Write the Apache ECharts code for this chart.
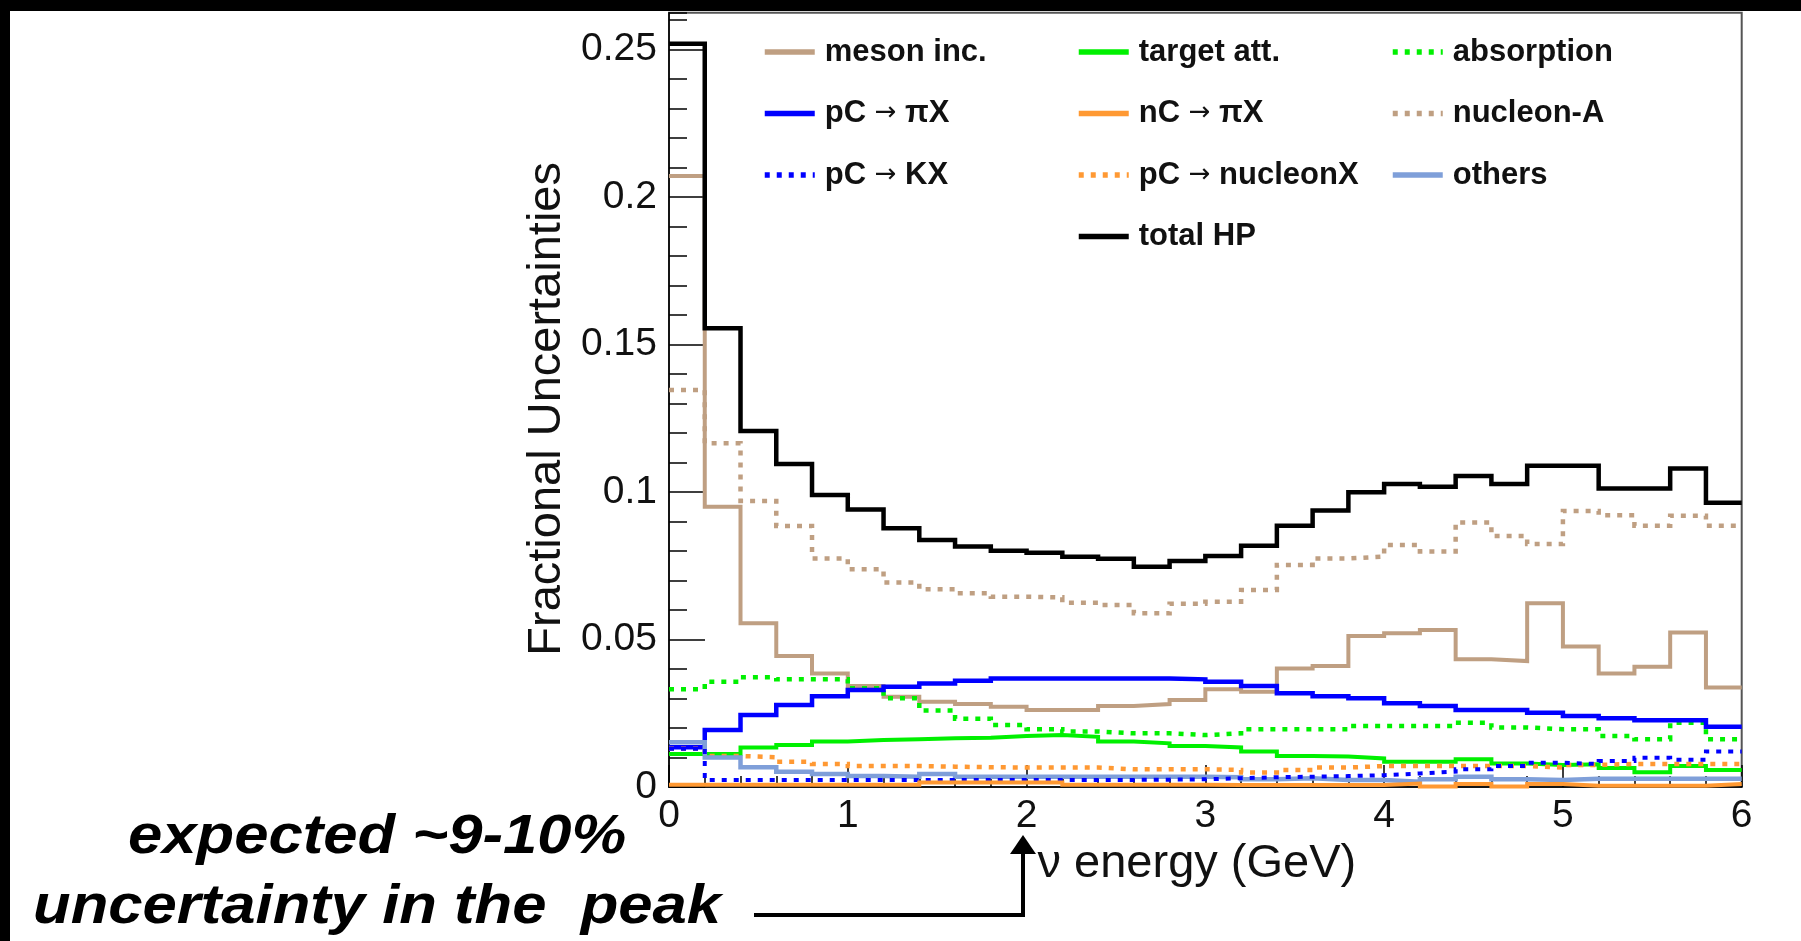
<!DOCTYPE html>
<html>
<head>
<meta charset="utf-8">
<script src="https://cdn.jsdelivr.net/npm/echarts@6/dist/echarts.min.js"></script>
<style>
  html, body { margin: 0; padding: 0; background: #fff; }
  #chart { width: 1801px; height: 941px; }
</style>
</head>
<body>
<div id="chart"></div>
<script>
// Bin edges (GeV)
const binEdges = [0, 0.2, 0.4, 0.6, 0.8, 1.0, 1.2, 1.4, 1.6, 1.8, 2.0, 2.2, 2.4, 2.6, 2.8, 3.0,
  3.2, 3.4, 3.6, 3.8, 4.0, 4.2, 4.4, 4.6, 4.8, 5.0, 5.2, 5.4, 5.6, 5.8, 6.0];
const xTickLabels = ['0', '1', '2', '3', '4', '5', '6'];
const yTickLabels = ['0', '0.05', '0.1', '0.15', '0.2', '0.25'];

// Fractional uncertainty per bin (30 bins)
const mesonInc = [0.2071, 0.095, 0.0555, 0.0444, 0.0385, 0.0342, 0.0306, 0.0289, 0.0281, 0.0272,
  0.0261, 0.0261, 0.0275, 0.0281, 0.0295, 0.0331, 0.0323, 0.0402, 0.041, 0.0512,
  0.0521, 0.0532, 0.0433, 0.0427, 0.0623, 0.0476, 0.0385, 0.0408, 0.0524, 0.0337];
const pCpiX = [0.0135, 0.0193, 0.0244, 0.0278, 0.0308, 0.0329, 0.034, 0.0351, 0.036, 0.0368,
  0.0368, 0.0368, 0.0368, 0.0368, 0.0365, 0.0357, 0.0342, 0.0318, 0.0308, 0.0301,
  0.0284, 0.0275, 0.0261, 0.0261, 0.0252, 0.0241, 0.0233, 0.0226, 0.0226, 0.0204];
const pCKX = [0.013, 0.0024, 0.0024, 0.0024, 0.0024, 0.0024, 0.0024, 0.0024, 0.0024, 0.0024,
  0.0024, 0.0024, 0.0024, 0.0025, 0.0026, 0.003, 0.0033, 0.0035, 0.0037, 0.004,
  0.0046, 0.0052, 0.006, 0.0071, 0.0082, 0.0078, 0.0088, 0.0099, 0.0092, 0.012];
const targetAtt = [0.0112, 0.0112, 0.0134, 0.0142, 0.0154, 0.0159, 0.0162, 0.0165, 0.0167, 0.0173,
  0.0176, 0.017, 0.0154, 0.0148, 0.0139, 0.0134, 0.012, 0.0105, 0.0103, 0.0097,
  0.0086, 0.0086, 0.0094, 0.008, 0.0075, 0.0077, 0.0064, 0.005, 0.0071, 0.0058];
const nCpiX = [0.0008, 0.0008, 0.0008, 0.0008, 0.0008, 0.0008, 0.0008, 0.0015, 0.0015, 0.0015,
  0.0015, 0.0008, 0.0008, 0.0008, 0.0008, 0.0007, 0.0007, 0.0007, 0.0007, 0.0007,
  0.0012, 0.0002, 0.001, 0.0002, 0.001, 0.0004, 0.0004, 0.0004, 0.0004, 0.001];
const pCnucleonX = [0.013, 0.0105, 0.0101, 0.0086, 0.0078, 0.0071, 0.0071, 0.0069, 0.0067, 0.0066,
  0.0066, 0.0066, 0.006, 0.006, 0.006, 0.0058, 0.0049, 0.0058, 0.0066, 0.0071,
  0.0071, 0.0071, 0.0071, 0.0071, 0.0066, 0.0075, 0.0078, 0.0078, 0.0078, 0.0078];
const absorption = [0.0331, 0.0357, 0.0372, 0.0365, 0.0365, 0.0335, 0.0301, 0.0259, 0.0231, 0.021,
  0.0196, 0.0188, 0.0182, 0.0182, 0.0176, 0.0182, 0.0196, 0.0196, 0.0196, 0.0207,
  0.0207, 0.0207, 0.0218, 0.0202, 0.0196, 0.0196, 0.0173, 0.0162, 0.0218, 0.0162];
const nucleonA = [0.1346, 0.1165, 0.097, 0.0885, 0.0775, 0.0738, 0.0693, 0.067, 0.0657, 0.0645,
  0.0643, 0.0625, 0.0617, 0.0589, 0.0621, 0.0628, 0.0668, 0.0753, 0.0775, 0.0781,
  0.082, 0.0798, 0.0897, 0.0851, 0.0824, 0.0936, 0.0921, 0.0886, 0.092, 0.0886];
const others = [0.0152, 0.01, 0.0067, 0.0052, 0.0044, 0.0037, 0.0035, 0.0044, 0.0035, 0.0035,
  0.0035, 0.0035, 0.0035, 0.0035, 0.0035, 0.0033, 0.0026, 0.003, 0.0024, 0.0024,
  0.0018, 0.0026, 0.0035, 0.0026, 0.0024, 0.0028, 0.0028, 0.0028, 0.0028, 0.0028];
const totalHP = [0.252, 0.1555, 0.1207, 0.1095, 0.099, 0.0941, 0.0877, 0.0837, 0.0815, 0.0801,
  0.0794, 0.0781, 0.0774, 0.0747, 0.0766, 0.0783, 0.0818, 0.0886, 0.0937, 0.0999,
  0.1027, 0.1018, 0.1054, 0.1027, 0.1089, 0.1089, 0.1012, 0.1012, 0.108, 0.0964];

const seriesNames = ['meson inc.', 'pC \u2192 \u03C0X', 'pC \u2192 KX', 'target att.', 'nC \u2192 \u03C0X',
  'pC \u2192 nucleonX', 'absorption', 'nucleon-A', 'others', 'total HP'];

// histogram -> step points at bin edges
function steps(vals) {
  return binEdges.map((e, i) => [e, vals[Math.min(i, vals.length - 1)]]);
}

const DOT = [5, 7];
function mk(name, vals, color, width, dotted, z) {
  return {
    name: name, type: 'line', step: 'end', data: steps(vals),
    symbol: 'none', showSymbol: false, silent: true, z: z,
    lineStyle: { color: color, width: width, type: dotted ? DOT : 'solid', cap: 'butt', join: 'miter' },
    itemStyle: { color: color }
  };
}

const TAN = '#bf9f82', BLUE = '#0000ff', GREEN = '#00f000', ORANGE = '#ff9933', LBLUE = '#7f9fd9';

const series = [
  mk(seriesNames[0], mesonInc, TAN, 4, false, 2),
  mk(seriesNames[7], nucleonA, TAN, 4.5, true, 3),
  mk(seriesNames[6], absorption, GREEN, 4.5, true, 4),
  mk(seriesNames[3], targetAtt, GREEN, 4, false, 5),
  mk(seriesNames[1], pCpiX, BLUE, 4.5, false, 6),
  mk(seriesNames[5], pCnucleonX, ORANGE, 4.5, true, 7),
  mk(seriesNames[8], others, LBLUE, 4.5, false, 8),
  mk(seriesNames[2], pCKX, BLUE, 4, true, 9),
  mk(seriesNames[4], nCpiX, ORANGE, 4, false, 10),
  mk(seriesNames[9], totalHP, '#000000', 4.5, false, 11)
];

const legendText = {
  fontFamily: 'Liberation Sans', fontWeight: 'bold', fontSize: 31, color: '#111', padding: [0, 0, 0, 5],
  rich: { a: { fontFamily: 'DejaVu Sans', fontWeight: 'normal', fontSize: 26, color: '#111' } }
};
function leg(names, left) {
  return {
    data: names, orient: 'vertical', left: left, top: 36.5, padding: 0, itemWidth: 50, itemHeight: 14,
    itemGap: 30.5, selectedMode: false, textStyle: legendText,
    itemStyle: { opacity: 0, borderWidth: 0 },
    lineStyle: { width: 5.5 },
    formatter: (n) => n.replace('\u2192', '{a|\u2192}')
  };
}

const labelFont = { fontFamily: 'Liberation Sans', fontSize: 39, color: '#111' };

const chart = echarts.init(document.getElementById('chart'), null, { renderer: 'canvas' });
chart.setOption({
  animation: false,
  backgroundColor: '#ffffff',
  grid: { left: 669, right: 59.3, top: 12.7, bottom: 154, show: true, borderColor: '#555', borderWidth: 2,
    containLabel: false, outerBoundsMode: 'none' },
  legend: [
    leg([seriesNames[0], seriesNames[1], seriesNames[2]], 762),
    leg([seriesNames[3], seriesNames[4], seriesNames[5], seriesNames[9]], 1076),
    leg([seriesNames[6], seriesNames[7], seriesNames[8]], 1390)
  ],
  xAxis: {
    type: 'value', min: 0, max: 6, interval: 1,
    name: '\u03BD energy (GeV)', nameLocation: 'middle', nameGap: 46,
    nameTextStyle: { fontFamily: 'Liberation Sans', fontSize: 47, color: '#111', padding: [0, 17, 0, 0] },
    axisLine: { show: true, onZero: false, lineStyle: { color: '#000', width: 1.5 } },
    axisTick: { show: true, inside: true, length: 22, lineStyle: { color: '#000', width: 1.5 } },
    minorTick: { show: true, splitNumber: 5, length: 11, lineStyle: { color: '#000', width: 1.5 } },
    axisLabel: Object.assign({ margin: 10, formatter: (v) => xTickLabels[Math.round(v)] }, labelFont),
    splitLine: { show: false }, minorSplitLine: { show: false }
  },
  yAxis: [
    {
      type: 'value', min: 0, max: 0.2625, interval: 0.05,
      name: 'Fractional Uncertainties', nameLocation: 'middle', nameGap: 81,
      nameTextStyle: { fontFamily: 'Liberation Sans', fontSize: 47, color: '#111', padding: [0, 18, 0, 0] },
      axisLine: { show: true, onZero: false, lineStyle: { color: '#000', width: 1.5 } },
      axisTick: { show: true, inside: true, length: 36, lineStyle: { color: '#000', width: 1.5 } },
      axisLabel: Object.assign({ margin: 12, showMaxLabel: false,
        formatter: (v) => { const i = Math.round(v / 0.05); return Math.abs(v - i * 0.05) < 1e-9 ? yTickLabels[i] : ''; } }, labelFont),
      splitLine: { show: false }
    },
    {
      type: 'value', min: 0, max: 0.2625, interval: 0.01, position: 'left',
      axisLine: { show: false },
      axisTick: { show: true, inside: true, length: 18, lineStyle: { color: '#000', width: 1.5 } },
      axisLabel: { show: false }, splitLine: { show: false }
    }
  ],
  series: series,
  graphic: [
    { type: 'rect', shape: { x: 0, y: 0, width: 1801, height: 11 }, style: { fill: '#000' }, z: 100 },
    { type: 'rect', shape: { x: 0, y: 0, width: 10, height: 941 }, style: { fill: '#000' }, z: 100 },
    { type: 'text', x: 128, y: 838, scaleX: 1.1, z: 100,
      style: { text: 'expected ~9-10%', font: 'italic bold 56px "Liberation Sans"', fill: '#000',
        align: 'left', verticalAlign: 'middle', textAlign: 'left', textVerticalAlign: 'middle' } },
    { type: 'text', x: 33, y: 908, scaleX: 1.1, z: 100,
      style: { text: 'uncertainty in the  peak', font: 'italic bold 56px "Liberation Sans"', fill: '#000',
        align: 'left', verticalAlign: 'middle', textAlign: 'left', textVerticalAlign: 'middle' } },
    { type: 'polyline', z: 100, shape: { points: [[754, 915], [1023, 915], [1023, 850]] },
      style: { stroke: '#000', lineWidth: 4, fill: null } },
    { type: 'polygon', z: 100, shape: { points: [[1023, 835], [1010, 854], [1036, 854]] },
      style: { fill: '#000' } }
  ]
});
</script>
</body>
</html>
